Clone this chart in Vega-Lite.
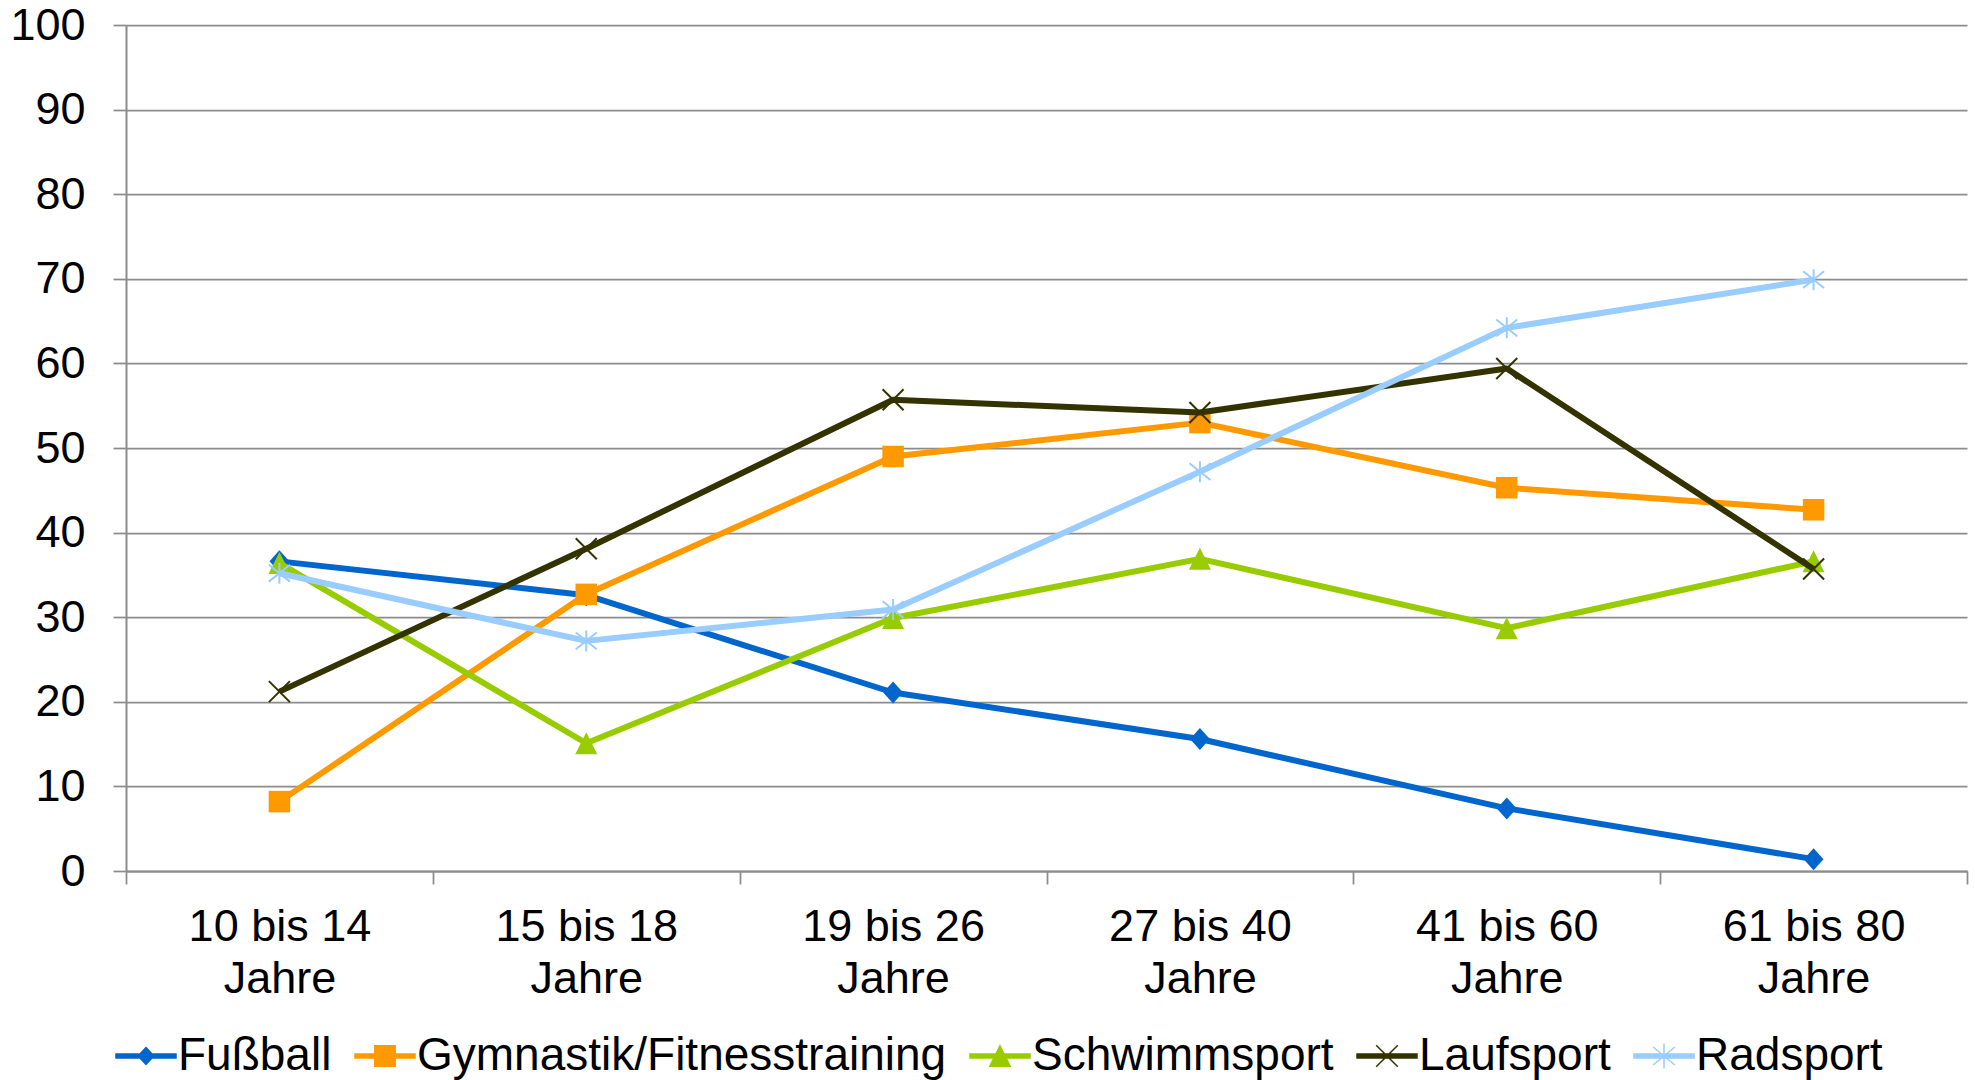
{
  "$schema": "https://vega.github.io/schema/vega-lite/v6.json",
  "autosize": {"type": "none"},
  "width": 1841,
  "height": 846,
  "padding": {"left": 126, "top": 25, "right": 8, "bottom": 209},
  "background": "white",
  "config": {"view": {"stroke": null}, "font": "Liberation Sans"},
  "data": {"values": [
    {"sport": "Fußball", "age": "10 bis 14 Jahre", "value": 36.6},
    {"sport": "Fußball", "age": "15 bis 18 Jahre", "value": 32.6},
    {"sport": "Fußball", "age": "19 bis 26 Jahre", "value": 21.1},
    {"sport": "Fußball", "age": "27 bis 40 Jahre", "value": 15.6},
    {"sport": "Fußball", "age": "41 bis 60 Jahre", "value": 7.4},
    {"sport": "Fußball", "age": "61 bis 80 Jahre", "value": 1.4},
    {"sport": "Gymnastik/Fitnesstraining", "age": "10 bis 14 Jahre", "value": 8.2},
    {"sport": "Gymnastik/Fitnesstraining", "age": "15 bis 18 Jahre", "value": 32.7},
    {"sport": "Gymnastik/Fitnesstraining", "age": "19 bis 26 Jahre", "value": 49.0},
    {"sport": "Gymnastik/Fitnesstraining", "age": "27 bis 40 Jahre", "value": 53.0},
    {"sport": "Gymnastik/Fitnesstraining", "age": "41 bis 60 Jahre", "value": 45.3},
    {"sport": "Gymnastik/Fitnesstraining", "age": "61 bis 80 Jahre", "value": 42.7},
    {"sport": "Schwimmsport", "age": "10 bis 14 Jahre", "value": 36.4},
    {"sport": "Schwimmsport", "age": "15 bis 18 Jahre", "value": 15.1},
    {"sport": "Schwimmsport", "age": "19 bis 26 Jahre", "value": 29.9},
    {"sport": "Schwimmsport", "age": "27 bis 40 Jahre", "value": 36.9},
    {"sport": "Schwimmsport", "age": "41 bis 60 Jahre", "value": 28.7},
    {"sport": "Schwimmsport", "age": "61 bis 80 Jahre", "value": 36.6},
    {"sport": "Laufsport", "age": "10 bis 14 Jahre", "value": 21.2},
    {"sport": "Laufsport", "age": "15 bis 18 Jahre", "value": 38.1},
    {"sport": "Laufsport", "age": "19 bis 26 Jahre", "value": 55.7},
    {"sport": "Laufsport", "age": "27 bis 40 Jahre", "value": 54.2},
    {"sport": "Laufsport", "age": "41 bis 60 Jahre", "value": 59.4},
    {"sport": "Laufsport", "age": "61 bis 80 Jahre", "value": 35.7},
    {"sport": "Radsport", "age": "10 bis 14 Jahre", "value": 35.2},
    {"sport": "Radsport", "age": "15 bis 18 Jahre", "value": 27.2},
    {"sport": "Radsport", "age": "19 bis 26 Jahre", "value": 30.9},
    {"sport": "Radsport", "age": "27 bis 40 Jahre", "value": 47.2},
    {"sport": "Radsport", "age": "41 bis 60 Jahre", "value": 64.2},
    {"sport": "Radsport", "age": "61 bis 80 Jahre", "value": 69.9}
  ]},
  "encoding": {
    "x": {
      "field": "age", "type": "nominal", "bandPosition": 0.5,
      "scale": {"type": "band", "paddingInner": 0, "paddingOuter": 0,
        "domain": ["10 bis 14 Jahre", "15 bis 18 Jahre", "19 bis 26 Jahre", "27 bis 40 Jahre", "41 bis 60 Jahre", "61 bis 80 Jahre"]},
      "axis": {
        "title": null, "grid": false, "labelAngle": 0,
        "labelExpr": "indexof(datum.label + '', 'Jahre') >= 0 ? [replace(datum.label, ' Jahre', ''), 'Jahre'] : ''",
        "labelFont": "Liberation Sans", "labelFontSize": 45, "labelColor": "#000000", "labelLimit": 600,
        "labelLineHeight": 52, "labelPadding": 20, "labelBaseline": "top",
        "domainColor": "#8c8c8c", "domainWidth": 2,
        "ticks": true, "tickBand": "extent", "tickSize": 13, "tickWidth": 1.75, "tickColor": "#8c8c8c"
      }
    },
    "y": {
      "field": "value", "type": "quantitative",
      "scale": {"domain": [0, 100], "nice": false},
      "axis": {
        "title": null, "values": [0, 10, 20, 30, 40, 50, 60, 70, 80, 90, 100],
        "grid": true, "gridColor": "#8c8c8c", "gridWidth": 1.75,
        "domainColor": "#8c8c8c", "domainWidth": 2,
        "ticks": true, "tickSize": 13, "tickWidth": 1.75, "tickColor": "#8c8c8c",
        "labelFont": "Liberation Sans", "labelFontSize": 45, "labelColor": "#000000",
        "labelPadding": 28, "labelFlush": false, "labelOverlap": false
      }
    }
  },
  "layer": [
    {"transform": [{"filter": {"field": "sport", "equal": "Fußball"}}],
     "mark": {"type": "line", "color": "#0066CC", "strokeWidth": 6, "strokeJoin": "round"}},
    {"transform": [{"filter": {"field": "sport", "equal": "Fußball"}}],
     "mark": {"type": "point", "filled": true, "opacity": 1, "color": "#0066CC", "size": 484, "shape": "M0,-1L0.9,0L0,1L-0.9,0Z", "strokeWidth": 0}},
    {"transform": [{"filter": {"field": "sport", "equal": "Gymnastik/Fitnesstraining"}}],
     "mark": {"type": "line", "color": "#FF9900", "strokeWidth": 6, "strokeJoin": "round"}},
    {"transform": [{"filter": {"field": "sport", "equal": "Gymnastik/Fitnesstraining"}}],
     "mark": {"type": "point", "filled": true, "opacity": 1, "color": "#FF9900", "size": 462, "shape": "M-1,-1H1V1H-1Z", "strokeWidth": 0}},
    {"transform": [{"filter": {"field": "sport", "equal": "Schwimmsport"}}],
     "mark": {"type": "line", "color": "#99CC00", "strokeWidth": 6, "strokeJoin": "round"}},
    {"transform": [{"filter": {"field": "sport", "equal": "Schwimmsport"}}],
     "mark": {"type": "point", "filled": true, "opacity": 1, "color": "#99CC00", "size": 484, "shape": "M0,-1L1,1H-1Z", "strokeWidth": 0}},
    {"transform": [{"filter": {"field": "sport", "equal": "Laufsport"}}],
     "mark": {"type": "line", "color": "#333300", "strokeWidth": 6, "strokeJoin": "round"}},
    {"transform": [{"filter": {"field": "sport", "equal": "Laufsport"}}],
     "mark": {"type": "point", "filled": false, "opacity": 1, "color": "#333300", "size": 441, "shape": "M-1,-1L1,1M-1,1L1,-1", "strokeWidth": 2}},
    {"transform": [{"filter": {"field": "sport", "equal": "Radsport"}}],
     "mark": {"type": "line", "color": "#99CCFF", "strokeWidth": 6, "strokeJoin": "round"}},
    {"transform": [{"filter": {"field": "sport", "equal": "Radsport"}}],
     "mark": {"type": "point", "filled": false, "opacity": 1, "color": "#99CCFF", "size": 441, "shape": "M-1,-0.8L1,0.8M-1,0.8L1,-0.8M0,-1V1", "strokeWidth": 2}},
    {
      "mark": {"type": "point", "filled": true, "opacity": 0},
      "encoding": {
        "fill": {"field": "sport", "type": "nominal",
          "scale": {"domain": ["Fußball", "Gymnastik/Fitnesstraining", "Schwimmsport", "Laufsport", "Radsport"],
                    "range": ["#0066CC", "#FF9900", "#99CC00", "#333300", "#99CCFF"]},
          "legend": {"orient": "none", "legendX": -11, "legendY": 1000, "direction": "horizontal", "title": null,
            "symbolSize": 3600, "symbolStrokeWidth": 1.5, "symbolOpacity": 1, "padding": 0,
            "labelFont": "Liberation Sans", "labelFontSize": 46, "labelColor": "#000000", "labelOffset": 1,
            "columnPadding": 20, "labelLimit": 0}},
        "stroke": {"field": "sport", "type": "nominal",
          "scale": {"domain": ["Fußball", "Gymnastik/Fitnesstraining", "Schwimmsport", "Laufsport", "Radsport"],
                    "range": ["#0066CC", "#FF9900", "#99CC00", "#333300", "#99CCFF"]},
          "legend": {"orient": "none", "legendX": -11, "legendY": 1000, "direction": "horizontal", "title": null,
            "symbolSize": 3600, "symbolStrokeWidth": 1.5, "symbolOpacity": 1, "padding": 0,
            "labelFont": "Liberation Sans", "labelFontSize": 46, "labelColor": "#000000", "labelOffset": 1,
            "columnPadding": 20, "labelLimit": 0}},
        "shape": {"field": "sport", "type": "nominal",
          "scale": {"domain": ["Fußball", "Gymnastik/Fitnesstraining", "Schwimmsport", "Laufsport", "Radsport"],
                    "range": [
                      "M-1,-0.07H1V0.07H-1Z M0,-0.28L0.26,0L0,0.28L-0.26,0Z",
                      "M-1,-0.07H1V0.07H-1Z M-0.34,-0.34H0.34V0.34H-0.34Z",
                      "M-1,-0.07H1V0.07H-1Z M0,-0.34L0.34,0.34H-0.34Z",
                      "M-1,-0.07H1V0.07H-1Z M-0.36,-0.36L0.36,0.36M-0.36,0.36L0.36,-0.36",
                      "M-1,-0.07H1V0.07H-1Z M-0.36,-0.3L0.36,0.3M-0.36,0.3L0.36,-0.3M0,-0.42V0.42"
                    ]},
          "legend": {"orient": "none", "legendX": -11, "legendY": 1000, "direction": "horizontal", "title": null,
            "symbolSize": 3600, "symbolStrokeWidth": 1.5, "symbolOpacity": 1, "padding": 0,
            "labelFont": "Liberation Sans", "labelFontSize": 46, "labelColor": "#000000", "labelOffset": 1,
            "columnPadding": 20, "labelLimit": 0}}
      }
    }
  ]
}
